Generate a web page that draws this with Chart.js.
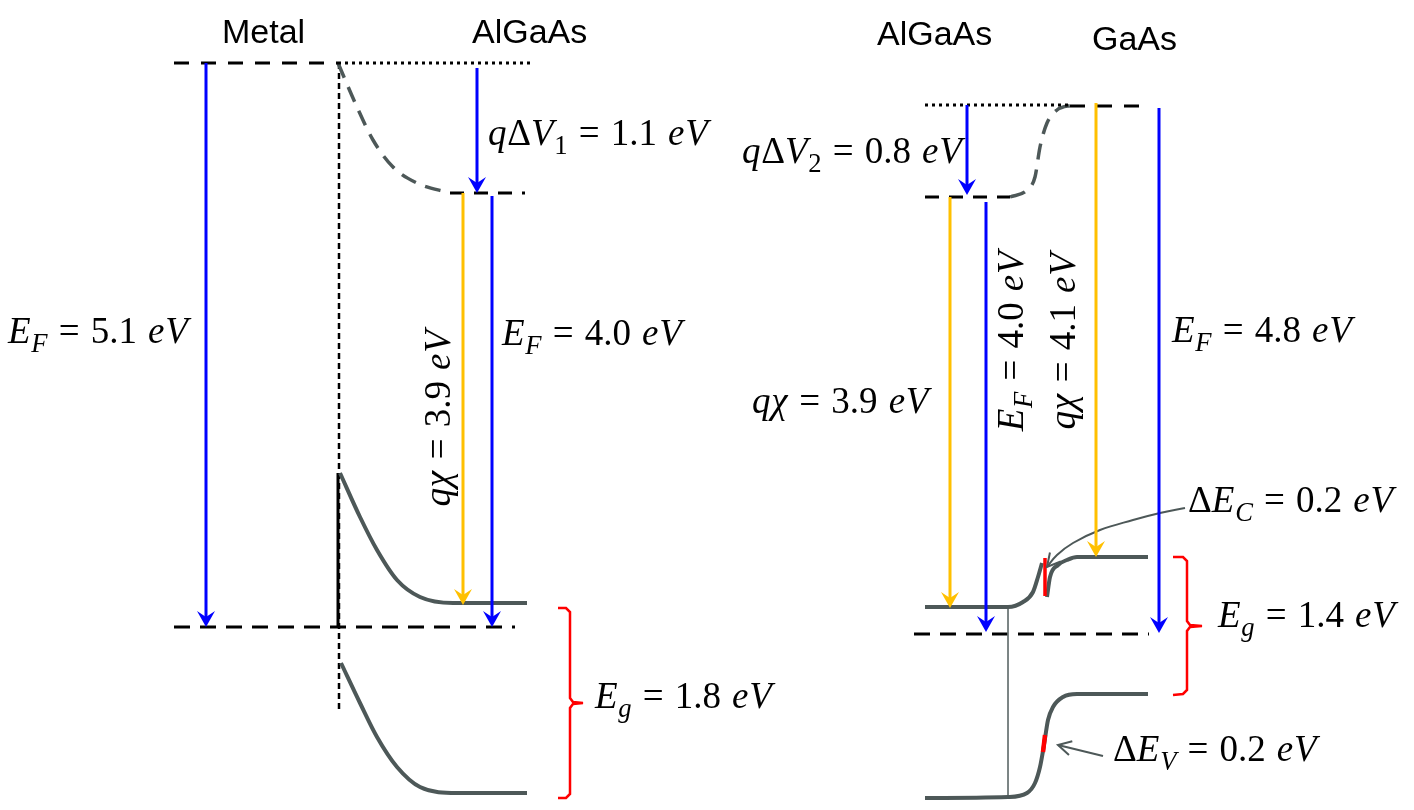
<!DOCTYPE html>
<html>
<head>
<meta charset="utf-8">
<script src="https://cdn.jsdelivr.net/npm/chart.js@4.4.0/dist/chart.umd.min.js"></script>
<style>
  html, body { margin: 0; padding: 0; background: #fff; }
  canvas { display: block; }
</style>
</head>
<body>
<canvas id="bandChart" width="1414" height="810"></canvas>
<script>
// Layer names over each side
const titleText = ['Metal', 'AlGaAs', 'AlGaAs', 'GaAs'];
const titleX = [222, 472, 877, 1092];
const titleY = [43, 43, 45, 50];

// Levels and band edges (x = position, y = drawing units counted from the top)
const metalVacuum = [[174, 63], [338, 63]];
const algaasVacuumLeft = [[338, 63], [530, 63]];
const vacuumBendLeft = [[338, 63], [357, 107], [373, 140], [393, 167], [417, 183], [450, 193]];
const algaasVacuumBulk = [[450, 193], [525, 193]];
const fermiLeft = [[174, 627], [515, 627]];
const interfaceLine = [[339, 63], [339, 713]];
const metalEdge = [[338, 473], [338, 627]];
const condLeft = [[340, 473], [360, 517], [377, 550], [397, 580], [420, 597], [453, 603], [527, 603]];
const valLeft = [[341, 663], [360, 703], [377, 737], [397, 767], [420, 787], [457, 793], [527, 793]];

const vacuumAlGaAsRight = [[925, 105], [1070, 105]];
const vacuumGaAs = [[1070, 106], [1148, 106]];
const vacuumAlGaAsBulk = [[925, 197], [1010, 197]];
const vacuumBendRight = [[1010, 197], [1027, 190], [1035, 177], [1040, 147], [1047, 123], [1057, 110], [1073, 105]];
const condAlGaAs = [[925, 607], [1008, 607], [1023, 602], [1033, 592], [1038, 577], [1042, 563]];
const condGaAs = [[1047, 597], [1050, 577], [1058, 565], [1067, 560], [1077, 557], [1148, 557]];
const deltaEc = [[1045, 558], [1045, 596]];
const fermiRight = [[914, 634], [1149, 634]];
const junctionLine = [[1008, 607], [1008, 797]];
const valRight = [[925, 798], [1008, 797], [1027, 793], [1035, 783], [1040, 767], [1044, 745], [1048, 720], [1053, 707], [1063, 697], [1077, 694], [1148, 694]];
const deltaEv = [[1043, 752], [1045, 735]];

// Energy arrows: x, start y, end y
const blueArrows = [[206, 63, 627], [477, 68, 193], [492, 196, 627], [967, 105, 195], [986, 202, 632], [1159, 108, 633]];
const yellowArrows = [[463, 193, 605], [950, 197, 608], [1096, 103, 557]];

// Gap brackets
const gapBracketLeft = [[558, 608], [566, 608], [570, 612], [570, 698], [573, 702], [583, 703], [573, 704], [570, 708], [570, 794], [566, 798], [558, 798]];
const gapBracketRight = [[1173, 557], [1183, 557], [1187, 561], [1187, 621], [1190, 625], [1202, 626], [1190, 627], [1187, 631], [1187, 690], [1183, 694], [1173, 695]];

// Callout arrows for the offsets
const calloutEc = [[1185, 508], [1160, 513], [1133, 520], [1100, 530], [1073, 543], [1057, 555], [1047, 567]];
const calloutEv = [[1103, 756], [1058, 745]];

// Math labels
const mathText = ['E_F = 5.1 eV', 'qΔV_1 = 1.1 eV', 'E_F = 4.0 eV', 'qχ = 3.9 eV', 'E_g = 1.8 eV',
  'qΔV_2 = 0.8 eV', 'qχ = 3.9 eV', 'E_F = 4.0 eV', 'qχ = 4.1 eV', 'E_F = 4.8 eV',
  'ΔE_C = 0.2 eV', 'E_g = 1.4 eV', 'ΔE_V = 0.2 eV'];
const mathX = [8, 488, 502, 450, 595, 742, 752, 1023, 1075, 1172, 1188, 1218, 1113];
const mathY = [343, 145, 345, 418, 708, 163, 413, 341, 341, 342, 512, 627, 761];
const mathRotated = [false, false, false, true, false, false, false, true, true, false, false, false, false];

const GRAY = '#4d5858';
const BLUE = '#0000ff';
const GOLD = '#ffc000';
const RED = '#ff0000';

const pts = a => a.map(([x, y]) => ({ x, y }));

function seg(data, color, width, dash, extra) {
    return Object.assign({
        data: pts(data),
        showLine: true,
        borderColor: color,
        borderWidth: width,
        borderDash: dash || [],
        borderCapStyle: 'butt',
        pointRadius: 0,
        fill: false,
        tension: 0
    }, extra || {});
}

const datasets = [];
blueArrows.forEach(([x, y0, y1]) => datasets.push(seg([[x, y0], [x, y1 - 6]], BLUE, 3, null, { arrow: 'solid', tip: [x, y1] })));
yellowArrows.forEach(([x, y0, y1]) => datasets.push(seg([[x, y0], [x, y1 - 6]], GOLD, 3, null, { arrow: 'solid', tip: [x, y1] })));
datasets.push(seg(calloutEc, GRAY, 2, null, { tension: 0.4, arrow: 'open' }));
datasets.push(seg(calloutEv, GRAY, 2, null, { arrow: 'open' }));
datasets.push(seg(deltaEc, RED, 3.5));
datasets.push(seg(deltaEv, RED, 4.5));
datasets.push(seg(gapBracketLeft, RED, 2.5));
datasets.push(seg(gapBracketRight, RED, 2.5));
datasets.push(seg(condLeft, GRAY, 4, null, { cubicInterpolationMode: 'monotone' }));
datasets.push(seg(valLeft, GRAY, 4, null, { cubicInterpolationMode: 'monotone' }));
datasets.push(seg(condAlGaAs, GRAY, 4, null, { cubicInterpolationMode: 'monotone' }));
datasets.push(seg(condGaAs, GRAY, 4, null, { cubicInterpolationMode: 'monotone' }));
datasets.push(seg(valRight, GRAY, 4, null, { cubicInterpolationMode: 'monotone' }));
datasets.push(seg(junctionLine, '#6b7575', 1));
datasets.push(seg(metalEdge, '#000', 3));
datasets.push(seg(metalVacuum, '#000', 3, [15, 12]));
datasets.push(seg(algaasVacuumLeft, '#000', 3, [3, 4]));
datasets.push(seg(vacuumBendLeft, GRAY, 3.5, [16, 10], { cubicInterpolationMode: 'monotone' }));
datasets.push(seg(algaasVacuumBulk, '#000', 3, [14, 10]));
datasets.push(seg(fermiLeft, '#000', 3, [16, 10]));
datasets.push(seg(interfaceLine, '#000', 2.5, [6, 4]));
datasets.push(seg(vacuumAlGaAsRight, '#000', 3, [3, 4]));
datasets.push(seg(vacuumGaAs, '#000', 3, [15, 12]));
datasets.push(seg(vacuumAlGaAsBulk, '#000', 3, [14, 10]));
datasets.push(seg(vacuumBendRight, GRAY, 3.5, [16, 10], { cubicInterpolationMode: 'monotone' }));
datasets.push(seg(fermiRight, '#000', 3, [16, 10]));

// Arrow heads at the end of flagged datasets
const arrowHeads = {
    id: 'arrowHeads',
    afterDatasetsDraw(chart) {
        const ctx = chart.ctx;
        const xs = chart.scales.x, ys = chart.scales.y;
        chart.data.datasets.forEach((ds, i) => {
            if (!ds.arrow) return;
            const p = chart.getDatasetMeta(i).data;
            const a = p[p.length - 2], b = p[p.length - 1];
            let tx = b.x, ty = b.y;
            if (ds.tip) { tx = xs.getPixelForValue(ds.tip[0]); ty = ys.getPixelForValue(ds.tip[1]); }
            const ang = Math.atan2(ty - a.y, tx - a.x);
            ctx.save();
            ctx.translate(tx, ty);
            ctx.rotate(ang);
            if (ds.arrow === 'solid') {
                ctx.fillStyle = ds.borderColor;
                ctx.beginPath();
                ctx.moveTo(0, 0);
                ctx.lineTo(-16, -9);
                ctx.lineTo(-10, 0);
                ctx.lineTo(-16, 9);
                ctx.closePath();
                ctx.fill();
            } else {
                ctx.strokeStyle = ds.borderColor;
                ctx.lineWidth = 2;
                ctx.beginPath();
                ctx.moveTo(-13, -7);
                ctx.lineTo(0, 0);
                ctx.lineTo(-13, 7);
                ctx.stroke();
            }
            ctx.restore();
        });
    }
};

// Tiny math typesetter: letters italic, digits upright, "_x" = subscript
function mathTokens(str) {
    const out = [];
    for (let i = 0; i < str.length; i++) {
        let c = str[i], sub = false;
        if (c === '_') { sub = true; c = str[++i]; }
        out.push({ c, sub, it: /[A-Za-zχ]/.test(c) });
    }
    return out;
}
function runMath(ctx, str, size, draw) {
    let x = 0;
    for (const t of mathTokens(str)) {
        if (t.c === ' ') { x += size * 0.3; continue; }
        const fs = t.sub ? size * 0.72 : size;
        ctx.font = (t.it ? 'italic ' : '') + fs + 'px "Liberation Serif", "DejaVu Serif", serif';
        if (draw) ctx.fillText(t.c, x, t.sub ? size * 0.24 : 0);
        x += ctx.measureText(t.c).width + (t.it && !t.sub ? size * 0.02 : 0);
    }
    return x;
}

const textLayer = {
    id: 'textLayer',
    afterDraw(chart) {
        const ctx = chart.ctx;
        const xs = chart.scales.x, ys = chart.scales.y;
        ctx.save();
        ctx.fillStyle = '#000';
        ctx.textBaseline = 'alphabetic';
        ctx.textAlign = 'left';
        ctx.font = '34px "Liberation Sans", Arial, sans-serif';
        titleText.forEach((t, i) => ctx.fillText(t, xs.getPixelForValue(titleX[i]), ys.getPixelForValue(titleY[i])));
        const size = 37;
        mathText.forEach((t, i) => {
            ctx.save();
            ctx.translate(xs.getPixelForValue(mathX[i]), ys.getPixelForValue(mathY[i]));
            if (mathRotated[i]) {
                ctx.rotate(-Math.PI / 2);
                const w = runMath(ctx, t, size, false);
                ctx.translate(-w / 2, 0);
            }
            runMath(ctx, t, size, true);
            ctx.restore();
        });
        ctx.restore();
    }
};

new Chart(document.getElementById('bandChart'), {
    type: 'scatter',
    data: { datasets },
    options: {
        responsive: false,
        animation: false,
        devicePixelRatio: 1,
        layout: { padding: 0 },
        plugins: { legend: { display: false }, tooltip: { enabled: false } },
        scales: {
            x: { type: 'linear', min: 0, max: 1414, display: false },
            y: { type: 'linear', min: 0, max: 810, reverse: true, display: false }
        }
    },
    plugins: [arrowHeads, textLayer]
});
</script>
</body>
</html>
